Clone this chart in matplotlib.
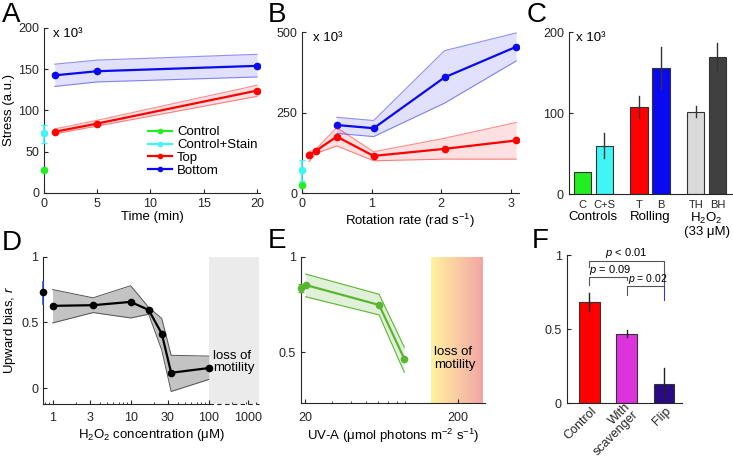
import matplotlib
matplotlib.use("Agg")
import matplotlib.pyplot as plt
import numpy as np
from matplotlib.ticker import FixedLocator, FixedFormatter, NullFormatter, LogLocator
from matplotlib.transforms import ScaledTranslation

plt.rcParams['font.family'] = ['Liberation Sans', 'DejaVu Sans']
plt.rcParams['mathtext.fontset'] = 'custom'
plt.rcParams['mathtext.rm'] = 'Liberation Sans'
plt.rcParams['mathtext.it'] = 'Liberation Sans:italic'
plt.rcParams['font.size'] = 9.5
plt.rcParams['axes.edgecolor'] = '#262626'
plt.rcParams['xtick.color'] = '#262626'
plt.rcParams['ytick.color'] = '#262626'
plt.rcParams['xtick.direction'] = 'in'
plt.rcParams['ytick.direction'] = 'in'
plt.rcParams['xtick.major.size'] = 3
plt.rcParams['ytick.major.size'] = 3
plt.rcParams['xtick.minor.size'] = 1.8
plt.rcParams['xtick.labelsize'] = 9
plt.rcParams['ytick.labelsize'] = 9

# ---- panel A: stress vs time
time_min = [1, 5, 20]
top_a = [74, 84, 124]
top_a_lo = [71.5, 81, 117]
top_a_hi = [77.5, 88, 130.5]
bot_a = [142.5, 147.5, 154]
bot_a_lo = [129, 134.5, 140.5]
bot_a_hi = [156, 161, 168]
ctrl_a = 27.5
stain_a = 72
stain_a_err = (61, 82.5)

# ---- panel B: stress vs rotation rate
rate_top = [0.1, 0.2, 0.5, 1.03, 2.05, 3.08]
top_b = [118, 132, 176, 116, 138, 164]
top_b_lo = [98, 124, 147, 101, 106, 106]
top_b_hi = [129, 137, 204, 129, 171, 220]
rate_bot = [0.5, 1.03, 2.05, 3.08]
bot_b = [212, 202, 360, 455]
bot_b_lo = [186, 176, 280, 411]
bot_b_hi = [236, 226, 443, 498]
ctrl_b = 26
stain_b = 72
stain_b_err = (38, 103)

# ---- panel C: bars
c_labels = ['C', 'C+S', 'T', 'B', 'TH', 'BH']
c_vals = [28, 60, 108, 155.6, 101.6, 169]
c_lo = [28, 44.4, 94.6, 129.6, 95, 152.7]
c_hi = [28, 75, 121, 182, 109, 187]
c_groups = ['Controls', 'Rolling', 'H$_2$O$_2$\n(33 \u03bcM)']

# ---- panel D: H2O2
conc = [1, 3.3, 10, 17, 25, 33, 100]
bias_d = [0.626, 0.631, 0.656, 0.595, 0.415, 0.117, 0.153]
bias_d_lo = [0.496, 0.575, 0.534, 0.562, 0.29, -0.025, 0.066]
bias_d_hi = [0.75, 0.687, 0.779, 0.615, 0.53, 0.25, 0.244]
ctrl_d = 0.728
ctrl_d_err = (0.64, 0.81)
d_ticks = [1, 3, 10, 30, 100, 316]
d_ticklabels = ['1', '3', '10', '30', '100', '1000']

# ---- panel E: UV-A
uv = [20.2, 61, 89]
bias_e = [0.852, 0.747, 0.465]
bias_e_lo = [0.79, 0.695, 0.394]
bias_e_hi = [0.909, 0.803, 0.526]
ctrl_e = 0.835
ctrl_e_err = (0.814, 0.855)

# ---- panel F: bars
f_labels = ['Control', 'With\nscavenger', 'Flip']
f_vals = [0.68, 0.466, 0.128]
f_lo = [0.62, 0.45, 0.034]
f_hi = [0.743, 0.495, 0.241]

GREEN = '#22ee22'
CYAN = '#3ff5f5'
RED = '#ff0000'
BLUE = '#0a0af0'

fig = plt.figure(figsize=(7.33, 4.58), dpi=100)


def style(ax):
    for s in ['top', 'right']:
        ax.spines[s].set_visible(False)
    ax.spines['left'].set_linewidth(0.8)
    ax.spines['bottom'].set_linewidth(0.8)


def band(ax, x, y, lo, hi, color, alpha=0.12):
    ax.fill_between(x, lo, hi, color=color, alpha=alpha, lw=0)
    ax.plot(x, lo, color=color, alpha=0.45, lw=0.8)
    ax.plot(x, hi, color=color, alpha=0.45, lw=0.8)
    ax.plot(x, y, color=color, lw=1.6, marker='o', ms=4.5)


# A
axA = fig.add_axes([0.060, 0.579, 0.295, 0.360])
band(axA, time_min, bot_a, bot_a_lo, bot_a_hi, BLUE)
band(axA, time_min, top_a, top_a_lo, top_a_hi, RED)
axA.plot([0], [ctrl_a], 'o', color=GREEN, ms=4.5, clip_on=False, zorder=5)
axA.errorbar([0], [stain_a], yerr=[[stain_a - stain_a_err[0]], [stain_a_err[1] - stain_a]],
             fmt='o', color=CYAN, ms=4.5, capsize=2.5, lw=1.2, clip_on=False, zorder=5)
axA.set_xlim(0, 20.3)
axA.set_ylim(0, 200)
axA.set_xticks([0, 5, 10, 15, 20])
axA.set_yticks([0, 50, 100, 150, 200])
axA.set_xlabel('Time (min)', labelpad=1)
axA.set_ylabel('Stress (a.u.)', labelpad=2)
axA.text(0.04, 1.0, 'x 10\u00b3', transform=axA.transAxes, va='top')
hl = [axA.plot([], [], color=c, marker='o', ms=3, lw=1.6)[0] for c in [GREEN, CYAN, RED, BLUE]]
axA.legend(hl, ['Control', 'Control+Stain', 'Top', 'Bottom'], loc='lower right',
           bbox_to_anchor=(1.03, 0.04), frameon=False, fontsize=9.5, handlelength=1.8,
           handletextpad=0.4, labelspacing=0.05, borderpad=0.2)
style(axA)

# B
axB = fig.add_axes([0.412, 0.578, 0.296, 0.3515])
band(axB, rate_bot, bot_b, bot_b_lo, bot_b_hi, BLUE)
band(axB, rate_top, top_b, top_b_lo, top_b_hi, RED)
axB.plot([0], [ctrl_b], 'o', color=GREEN, ms=4.5, clip_on=False, zorder=5)
axB.errorbar([0], [stain_b], yerr=[[stain_b - stain_b_err[0]], [stain_b_err[1] - stain_b]],
             fmt='o', color=CYAN, ms=4.5, capsize=2.5, lw=1.2, clip_on=False, zorder=5)
axB.set_xlim(0, 3.12)
axB.set_ylim(0, 500)
axB.set_xticks([0, 1, 2, 3])
axB.set_yticks([0, 250, 500])
axB.set_xlabel('Rotation rate (rad s$^{-1}$)', labelpad=1)
axB.text(0.05, 1.0, 'x 10\u00b3', transform=axB.transAxes, va='top')
style(axB)

# C
axC = fig.add_axes([0.776, 0.576, 0.228, 0.3537])
c_pos = [1, 2, 3.6, 4.6, 6.2, 7.2]
c_cols = [GREEN, CYAN, RED, BLUE, '#d9d9d9', '#404040']
axC.bar(c_pos, c_vals, width=0.8, color=c_cols, edgecolor='#333333', lw=0.8)
for x, lo, hi in zip(c_pos, c_lo, c_hi):
    if hi > lo:
        axC.plot([x, x], [lo, hi], color='#333333', lw=1)
axC.set_xlim(0.37, 8.05)
axC.set_ylim(0, 200)
axC.set_yticks([0, 100, 200])
axC.set_xticks(c_pos)
axC.set_xticklabels(c_labels, fontsize=8)
axC.tick_params(axis='x', length=0, pad=4)
for gx, g in zip([1.5, 4.1, 6.7], c_groups):
    axC.text(gx, -0.105, g, transform=axC.get_xaxis_transform(), ha='center', va='top',
             linespacing=1.0)
axC.text(0.045, 1.0, 'x 10\u00b3', transform=axC.transAxes, va='top')
style(axC)

# D
axD = fig.add_axes([0.059, 0.118, 0.294, 0.3216])
xminD, xmaxD = 0.76, 437
yminD = -0.12
axD.fill_between([100, xmaxD], yminD, 1, color='#ebebeb', lw=0, zorder=0)
axD.fill_between(conc, bias_d_lo, bias_d_hi, color='#b4b4b4', alpha=0.8, lw=0)
axD.plot(conc, bias_d_lo, color='#555555', lw=0.7)
axD.plot(conc, bias_d_hi, color='#555555', lw=0.7)
axD.plot(conc, bias_d, color='k', lw=1.6, marker='o', ms=4.5)
axD.plot([xminD, xminD], ctrl_d_err, color='#2b4fd8', lw=1.2, clip_on=False, zorder=4)
axD.plot([xminD], [ctrl_d], 'o', color='k', ms=4.5, clip_on=False, zorder=5)
axD.set_xscale('log')
axD.set_xlim(xminD, xmaxD)
axD.set_ylim(yminD, 1)
axD.xaxis.set_major_locator(FixedLocator(d_ticks))
axD.xaxis.set_major_formatter(FixedFormatter(d_ticklabels))
axD.xaxis.set_minor_locator(LogLocator(subs=np.arange(2, 10), numticks=10))
axD.xaxis.set_minor_formatter(NullFormatter())
axD.set_yticks([0, 0.5, 1])
axD.set_yticklabels(['0', '0.5', '1'])
axD.spines['bottom'].set_bounds(xminD, 100)
axD.plot([100, xmaxD], [yminD, yminD], color='#262626', lw=0.8, ls=(0, (4, 3)), clip_on=False)
axD.text(114, 0.2, 'loss of\nmotility', ha='left', va='center', linespacing=1.05)
axD.set_xlabel('H$_2$O$_2$ concentration (\u03bcM)', labelpad=2)
axD.set_ylabel('Upward bias, $r$', labelpad=2)
axD.tick_params(axis='x', pad=6)
style(axD)

# E
axE = fig.add_axes([0.410, 0.1194, 0.2514, 0.320])
xminE, xmaxE = 18.7, 299
yminE = 0.231
g0, g1 = 133, 291
edges = np.geomspace(g0, g1, 61)
c0 = np.array([1.0, 0.95, 0.62])
c1 = np.array([0.95, 0.65, 0.65])
for i in range(60):
    t = i / 59
    axE.axvspan(edges[i], edges[i + 1], ymin=0, ymax=1, color=c0 * (1 - t) + c1 * t, lw=0, zorder=0)
GE = '#5cb531'
axE.fill_between(uv, bias_e_lo, bias_e_hi, color=GE, alpha=0.18, lw=0)
axE.plot(uv, bias_e_lo, color=GE, lw=0.8)
axE.plot(uv, bias_e_hi, color=GE, lw=0.8)
axE.plot(uv, bias_e, color=GE, lw=1.6, marker='o', ms=4.5)
axE.errorbar([xminE], [ctrl_e], yerr=[[ctrl_e - ctrl_e_err[0]], [ctrl_e_err[1] - ctrl_e]],
             fmt='o', color=GE, ms=4.5, capsize=2, lw=1, clip_on=False, zorder=5)
axE.set_xscale('log')
axE.set_xlim(xminE, xmaxE)
axE.set_ylim(yminE, 1)
axE.xaxis.set_major_locator(FixedLocator([20, 200]))
axE.xaxis.set_major_formatter(FixedFormatter(['20', '200']))
axE.xaxis.set_minor_formatter(NullFormatter())
axE.set_yticks([0.5, 1])
axE.set_yticklabels(['0.5', '1'])
axE.text(139, 0.465, 'loss of\nmotility', ha='left', va='center', linespacing=1.05)
axE.set_xlabel('UV-A (\u03bcmol photons m$^{-2}$ s$^{-1}$)', labelpad=2)
axE.tick_params(axis='x', pad=6)
style(axE)

# F
axF = fig.add_axes([0.773, 0.1194, 0.157, 0.3238])
f_pos = [1, 2, 3]
f_cols = ['#ff0000', '#dd33dd', '#2a0a85']
axF.bar(f_pos, f_vals, width=0.55, color=f_cols, edgecolor='#333333', lw=0.8)
for x, lo, hi in zip(f_pos, f_lo, f_hi):
    axF.plot([x, x], [lo, hi], color='#222222', lw=1)
br = '#555555'
axF.plot([1, 1, 3, 3], [0.92, 0.96, 0.96, 0.79], color=br, lw=0.8, clip_on=False)
axF.plot([1, 1, 2, 2], [0.80, 0.85, 0.85, 0.83], color=br, lw=0.8, clip_on=False)
axF.plot([2, 2, 3], [0.73, 0.79, 0.79], color=br, lw=0.8, clip_on=False)
axF.plot([3, 3], [0.79, 0.70], color='#3a3ab0', lw=0.8, clip_on=False)
axF.text(2, 0.965, '$p$ < 0.01', ha='center', va='bottom', fontsize=8)
axF.text(1.55, 0.852, '$p$ = 0.09', ha='center', va='bottom', fontsize=8)
axF.text(2.03, 0.792, '$p$ = 0.02', ha='left', va='bottom', fontsize=7.5)
axF.set_xlim(0.39, 3.48)
axF.set_ylim(0, 1)
axF.set_yticks([0, 0.5, 1])
axF.set_yticklabels(['0', '0.5', '1'])
axF.set_xticks(f_pos)
axF.set_xticklabels(f_labels, rotation=45, ha='right', va='center', rotation_mode='anchor',
                    linespacing=0.9, fontsize=9)
axF.tick_params(axis='x', length=0, pad=3)
for t in axF.get_xticklabels():
    t.set_transform(t.get_transform() + ScaledTranslation(4 / 72, -1 / 72, fig.dpi_scale_trans))
style(axF)

for lbl, x, y in [('A', 0.002, 0.953), ('B', 0.365, 0.953), ('C', 0.719, 0.953),
                  ('D', 0.002, 0.454), ('E', 0.365, 0.458), ('F', 0.725, 0.458)]:
    fig.text(x, y, lbl, fontsize=20, va='baseline', ha='left')

fig.savefig('out.png', dpi=100)
